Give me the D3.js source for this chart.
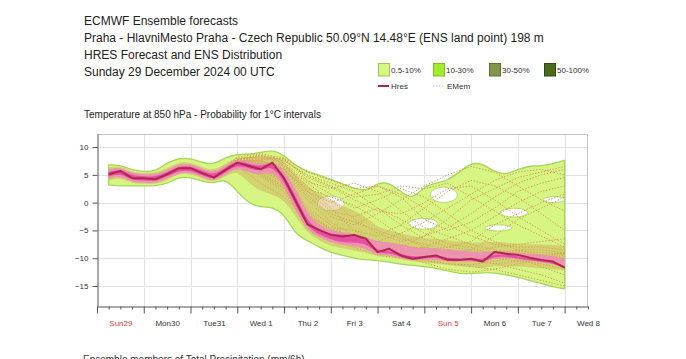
<!DOCTYPE html>
<html><head><meta charset="utf-8">
<script src="https://cdn.jsdelivr.net/npm/d3@7"></script>
<style>body{margin:0;background:#fff}svg{display:block}text{font-family:"Liberation Sans",Arial,sans-serif}</style>
</head><body><svg id="c" width="686" height="359"></svg>
<script>
// ---------- DATA ----------
const steps = [6,12,18,24,30,36,42,48,54,60,66,72,78,84,90,96,102,108,114,120,126,132,138,144,150,156,162,168,174,180,186,192,198,204,210,216,222,228,234,240];
const hres  = [5.1,5.7,4.4,4.4,4.2,5.1,6.2,6.2,5.3,4.5,5.9,7.2,6.6,6.0,7.2,4.4,0.3,-3.9,-4.9,-5.8,-6.1,-5.8,-6.5,-8.9,-8.3,-9.5,-10.1,-9.8,-9.5,-10.3,-10.3,-10.1,-10.6,-8.9,-9.2,-9.4,-9.9,-10.3,-10.6,-11.7];
// 0.5-10% envelope
const p05Hi = [6.8,6.8,5.8,5.6,5.6,7.2,8.0,8.0,7.2,6.8,8.2,8.7,8.7,9.0,9.5,8.6,6.6,5.6,5.0,4.2,3.4,2.6,2.0,3.6,3.6,2.0,0.5,3.0,3.5,4.0,5.5,7.2,7.0,5.5,5.0,6.0,6.6,6.6,7.0,7.6];
const p05Lo = [3.2,3.0,3.0,3.0,3.0,3.4,4.6,4.6,3.8,3.4,4.4,2.0,-0.2,-0.8,-0.8,-2.0,-5.8,-6.8,-8.0,-9.0,-9.5,-10.0,-10.3,-10.4,-10.7,-11.1,-11.3,-11.5,-11.8,-12.3,-12.8,-12.8,-12.6,-12.6,-13.0,-13.4,-14.0,-14.5,-15.2,-15.5];
// 10-30%
const p10Hi = [6.3,6.7,5.4,5.4,5.3,6.2,7.3,7.3,6.4,5.7,7.0,8.2,8.0,8.2,8.5,7.5,5.0,3.0,1.5,0.5,-0.5,-1.5,-2.5,-4.5,-5.0,-5.5,-6.0,-6.5,-6.5,-6.8,-7.0,-7.2,-7.2,-7.0,-7.2,-7.4,-7.5,-7.5,-7.6,-7.8];
const p10Lo = [4.0,4.5,3.4,3.4,3.3,4.0,5.2,5.2,4.3,3.6,4.8,5.8,3.5,2.0,1.5,0.5,-2.5,-5.5,-6.8,-7.8,-8.2,-8.6,-9.0,-9.6,-9.8,-10.2,-10.6,-10.8,-11.0,-11.2,-11.4,-11.6,-11.8,-11.4,-11.4,-11.5,-11.6,-11.8,-12.0,-12.2];
// 30-50%
const p30Hi = [6.0,6.5,5.2,5.2,5.0,5.9,7.0,7.0,6.1,5.4,6.7,7.9,7.3,6.8,7.6,5.8,2.5,-2.0,-4.0,-5.0,-5.4,-5.6,-6.2,-7.0,-7.2,-7.6,-8.0,-8.2,-8.2,-8.4,-8.6,-8.8,-9.0,-8.6,-8.8,-9.0,-9.2,-9.4,-9.6,-10.0];
const p30Lo = [4.3,4.8,3.6,3.6,3.4,4.3,5.4,5.4,4.6,3.7,5.1,6.3,5.4,4.9,5.8,3.0,-1.5,-5.0,-6.2,-7.2,-7.6,-7.8,-8.3,-9.6,-9.4,-10.0,-10.4,-10.3,-10.2,-10.6,-10.6,-10.6,-10.8,-10.0,-10.0,-10.2,-10.5,-10.8,-11.0,-11.6];
// 50-100%
const p50Hi = [5.5,6.1,4.8,4.8,4.6,5.5,6.6,6.6,5.7,4.9,6.3,7.6,7.0,6.4,7.4,5.0,1.2,-3.4,-5.0,-5.6,-5.8,-5.8,-6.6,-8.8,-8.6,-9.2,-9.8,-9.6,-9.4,-10.0,-10.1,-10.0,-10.3,-9.2,-9.4,-9.6,-10.0,-10.3,-10.6,-11.4];
const p50Lo = [4.7,5.3,4.0,4.0,3.8,4.7,5.8,5.8,4.9,4.1,5.5,6.8,6.2,5.6,6.8,3.8,-0.5,-4.4,-5.8,-6.6,-7.2,-7.2,-7.3,-9.2,-9.0,-9.8,-10.4,-10.0,-9.8,-10.6,-10.5,-10.3,-10.9,-9.6,-9.8,-10.0,-10.4,-10.6,-10.9,-11.8];
// zero-probability gaps inside the envelope: [t0,t1,v0,v1]
const holeT0 = [113,160,171,199,207,229];
const holeT1 = [127,175,185,213,221,240];
const holeV0 = [-1.5,-4.8,0.0,-5.1,-2.6,0.0];
const holeV1 = [1.2,-2.8,2.8,-4.0,-1.0,1.1];
// ensemble members
const memSteps = [6,12,24,36,48,60,72,84,96,108,120,132,144,156,168,180,192,204,216,228,240];
const m01 = [5.3,5.5,4.6,5.4,6.5,4.8,7.0,6.5,5.0,-2.0,-5.0,-6.5,-8.0,-9.0,-9.5,-10.0,-10.5,-9.5,-9.0,-9.8,-10.5];
const m02 = [5.0,5.8,4.2,4.8,6.0,4.6,7.6,7.5,6.5,3.0,-1.0,-5.0,-7.5,-8.5,-8.0,-9.0,-10.0,-11.0,-12.0,-13.0,-14.5];
const m03 = [5.4,5.9,4.5,5.2,6.8,5.0,8.0,8.2,7.5,5.0,3.5,2.0,-1.0,-4.0,-6.5,-8.0,-8.5,-9.0,-8.8,-9.0,-9.2];
const m04 = [5.1,5.6,4.3,5.0,6.3,4.2,6.5,3.5,1.0,-3.0,-6.0,-7.0,-7.5,-8.0,-6.0,-3.0,0.5,2.5,4.5,5.5,6.5];
const m05 = [5.2,5.4,4.8,5.5,6.0,4.6,7.3,5.5,3.0,-5.0,-7.0,-8.0,-9.5,-10.0,-10.5,-11.0,-11.5,-12.0,-11.0,-10.0,-9.0];
const m06 = [5.0,5.7,4.1,4.9,6.4,4.4,7.5,7.8,8.0,4.0,1.5,-1.0,0.5,2.5,1.0,-2.0,-5.0,-7.0,-8.5,-9.5,-10.5];
const m07 = [5.3,5.6,4.4,5.1,6.1,4.7,7.1,6.2,4.0,-2.5,-4.5,-5.0,-6.0,-4.0,-1.0,2.0,4.0,3.0,1.0,-2.0,-5.0];
const m08 = [5.1,5.5,4.7,5.3,6.6,4.5,6.8,4.8,2.0,-4.5,-6.5,-7.5,-8.5,-9.5,-10.8,-12.0,-12.5,-12.0,-13.0,-14.0,-15.0];
const m09 = [5.2,5.8,4.3,5.0,6.2,4.9,7.8,8.5,7.0,2.0,0.0,1.5,3.0,1.0,-3.0,-5.0,-3.5,-1.0,2.0,3.5,4.5];
const m10 = [5.0,5.5,4.5,5.2,6.3,4.3,7.0,7.0,5.5,0.5,-3.5,-6.0,-7.0,-7.5,-8.5,-8.0,-7.0,-4.0,-2.0,0.0,1.5];
const m11 = [5.3,5.7,4.6,4.9,6.0,4.7,7.4,6.8,6.0,1.5,-2.5,-4.0,-2.0,0.5,3.0,5.0,6.5,5.5,3.0,0.5,-1.5];
const m12 = [5.1,5.6,4.2,5.3,6.5,4.5,7.2,5.8,3.5,-3.5,-5.5,-6.0,-9.0,-9.8,-10.0,-10.5,-10.0,-9.0,-8.5,-8.5,-9.0];
const m13 = [5.2,5.4,4.4,5.1,6.7,4.8,8.2,8.8,8.0,5.5,4.0,2.5,3.0,1.5,-1.0,-4.0,-6.0,-7.5,-8.0,-8.0,-8.5];
const m14 = [5.0,5.9,4.5,5.0,6.1,4.4,6.9,5.0,2.5,-3.8,-5.8,-7.0,-8.2,-8.8,-9.2,-9.0,-8.5,-6.0,-3.0,-1.0,1.0];
const m15 = [5.3,5.7,4.3,5.2,6.4,4.6,7.5,7.2,6.8,3.5,0.5,-3.0,-5.5,-7.0,-6.0,-4.5,-2.0,1.0,3.5,5.0,6.0];
const m16 = [5.1,5.6,4.5,5.1,6.2,4.5,7.1,6.0,4.5,-4.0,-6.2,-6.8,-8.0,-8.8,-9.5,-9.8,-10.5,-11.0,-10.5,-11.0,-12.0];
const m17 = [5.2,5.6,4.4,5.0,6.3,4.6,7.4,7.6,6.0,1.0,-2.0,-3.5,-5.0,-6.5,-7.5,-8.5,-9.5,-10.0,-10.5,-10.0,-9.5];
const m18 = [5.1,5.7,4.5,5.1,6.2,4.4,7.2,6.4,5.2,-1.0,-4.0,-6.8,-8.5,-9.0,-8.0,-6.5,-5.0,-2.5,0.0,2.0,3.0];
const m19 = [5.3,5.5,4.3,5.2,6.4,4.7,7.6,8.0,7.2,3.8,2.5,3.5,2.0,-1.5,-4.5,-6.0,-7.5,-8.5,-9.5,-10.5,-11.5];
const m20 = [5.0,5.8,4.6,5.0,6.5,4.5,7.0,6.0,3.8,-2.8,-5.5,-6.5,-7.0,-5.5,-3.5,-1.0,1.5,4.0,5.5,6.0,5.0];
const m21 = [5.2,5.6,4.4,5.3,6.1,4.6,7.3,7.0,5.8,2.5,1.0,-0.5,-3.0,-6.0,-8.0,-9.0,-9.0,-8.0,-7.5,-7.0,-6.5];
const m22 = [5.1,5.7,4.5,5.0,6.3,4.8,7.7,8.3,7.8,4.5,2.8,0.5,-1.5,-2.0,0.0,2.5,3.0,0.5,-2.5,-5.0,-7.5];
const m23 = [5.3,5.5,4.6,5.2,6.2,4.4,6.9,5.2,2.8,-4.2,-6.4,-7.2,-8.8,-9.6,-10.2,-11.0,-11.2,-10.5,-9.8,-9.5,-10.0];
const m24 = [5.2,5.8,4.4,5.1,6.6,4.6,7.5,7.4,6.2,2.0,-1.5,-2.5,-1.0,-3.0,-5.5,-7.5,-8.0,-9.5,-10.0,-11.5,-13.0];
const m25 = [5.0,5.6,4.3,4.9,6.3,4.5,7.1,6.6,4.8,-1.5,-4.8,-6.0,-7.8,-8.4,-9.0,-9.2,-9.5,-9.8,-9.6,-9.4,-9.2];
const m26 = [5.2,5.7,4.5,5.2,6.0,4.7,7.8,8.6,7.6,4.8,3.0,1.0,1.5,3.0,2.5,3.5,1.0,-1.5,-4.0,-6.0,-8.0];
const members = [m01,m02,m03,m04,m05,m06,m07,m08,m09,m10,m11,m12,m13,m14,m15,m16,m17,m18,m19,m20,m21,m22,m23,m24,m25,m26];
// axes / text
const yTicks = [10,5,0,-5,-10,-15];
const dayLabels = ["Sun29","Mon30","Tue31","Wed 1","Thu 2","Fri 3","Sat 4","Sun 5","Mon 6","Tue 7","Wed 8"];
const sundays = ["Sun29","Sun 5"];
const titleLines = ["ECMWF Ensemble forecasts","Praha - HlavniMesto Praha - Czech Republic 50.09°N 14.48°E (ENS land point) 198 m","HRES Forecast and ENS Distribution","Sunday 29 December 2024 00 UTC"];
const legendLabels = ["0.5-10%","10-30%","30-50%","50-100%"];
const lineLegend = ["Hres","EMem"];

// ---------- DRAW ----------
const svg = d3.select("#c");
const W=686,H=359;
svg.append("rect").attr("width",W).attr("height",H).attr("fill","#fff");
const L=97,R=588,T=134,B=306;
const x = d3.scaleLinear().domain([0,252]).range([L,R]);
const y = d3.scaleLinear().domain([-18.6,12.35]).range([B,T]);

// titles
const tg = svg.append("g").attr("fill","#222");
const tBase=[25,42,59,76];
titleLines.forEach((s,i)=>tg.append("text").attr("x",84).attr("y",tBase[i]).attr("font-size",12).text(s));
const sub = svg.append("text").attr("x",84).attr("y",118).attr("font-size",10).attr("fill","#222")
  .text("Temperature at 850 hPa - Probability for 1°C intervals");
{const w=sub.node().getComputedTextLength(); sub.attr("font-size",10*237/w);}
svg.append("text").attr("x",83).attr("y",363).attr("font-size",10).attr("fill","#333")
  .text("Ensemble members of Total Precipitation (mm/6h)");

// legend
const boxFill=["#d6f880","#a2ec2e","#82964a","#4a6a1c"];
const boxStroke=["#9cc858","#78c020","#5e7034","#2e4810"];
const lg = svg.append("g");
const lx=[378,433,489,544];
legendLabels.forEach((s,i)=>{
  lg.append("rect").attr("x",lx[i]+0.5).attr("y",63.5).attr("width",11).attr("height",12.5)
    .attr("fill",boxFill[i]).attr("stroke",boxStroke[i]).attr("stroke-width",1);
  lg.append("text").attr("x",lx[i]+13).attr("y",72.5).attr("font-size",8).attr("fill","#333").text(s);
});
lg.append("line").attr("x1",378).attr("x2",389).attr("y1",86).attr("y2",86).attr("stroke","#a8284e").attr("stroke-width",2);
lg.append("text").attr("x",391).attr("y",89).attr("font-size",8).attr("fill","#333").text(lineLegend[0]);
lg.append("line").attr("x1",433).attr("x2",444).attr("y1",86).attr("y2",86).attr("stroke","#bbb").attr("stroke-width",1).attr("stroke-dasharray","1.5,1.5");
lg.append("text").attr("x",447).attr("y",89).attr("font-size",8).attr("fill","#333").text(lineLegend[1]);

// grid
const grid = svg.append("g").attr("stroke","#e2e2e2").attr("stroke-width",1);
d3.range(24,252,24).forEach(h=>grid.append("line").attr("x1",Math.round(x(h))+0.5).attr("x2",Math.round(x(h))+0.5).attr("y1",T).attr("y2",B));
yTicks.forEach(v=>grid.append("line").attr("x1",L).attr("x2",R).attr("y1",Math.round(y(v))+0.5).attr("y2",Math.round(y(v))+0.5));

// plot clip
svg.append("clipPath").attr("id","pc").append("rect").attr("x",L).attr("y",T).attr("width",R-L).attr("height",B-T);
const pg = svg.append("g").attr("clip-path","url(#pc)");

const band = (hi,lo)=>d3.area().x((d,i)=>x(steps[i])).y0((d,i)=>y(lo[i])).y1((d,i)=>y(hi[i])).curve(d3.curveBasis)(steps);
pg.append("path").attr("d",band(p05Hi,p05Lo)).attr("fill","#d6f582").attr("stroke","#a6d65a").attr("stroke-width",1.3);
holeT0.forEach((t0,i)=>{
  const cx=(x(t0)+x(holeT1[i]))/2, cy=(y(holeV0[i])+y(holeV1[i]))/2;
  pg.append("ellipse").attr("cx",cx).attr("cy",cy).attr("rx",(x(holeT1[i])-x(t0))/2).attr("ry",(y(holeV0[i])-y(holeV1[i]))/2)
    .attr("fill","#fff").attr("stroke","#b4de6c").attr("stroke-width",1);
});
// members
const mline = d3.line().x((d,i)=>x(memSteps[i])).y(d=>y(d));
members.forEach(m=>pg.append("path").attr("d",mline(m)).attr("fill","none").attr("stroke","#d1834c")
  .attr("stroke-width",0.9).attr("stroke-dasharray","1.3,1.7").attr("opacity",0.9));
pg.append("path").attr("d",band(p10Hi,p10Lo)).attr("fill","#cfae5e").attr("opacity",0.5);
pg.append("path").attr("d",band(p30Hi,p30Lo)).attr("fill","#f08abb").attr("opacity",0.85);
pg.append("path").attr("d",band(p50Hi,p50Lo)).attr("fill","#e8479e").attr("opacity",0.9);
const hl = d3.line().x((d,i)=>x(steps[i])).y(d=>y(d));
pg.append("path").attr("d",hl(hres)).attr("fill","none").attr("stroke","#b0264f").attr("stroke-width",2).attr("stroke-linejoin","round");

// frame
svg.append("path").attr("d",`M${L},${T+0.5}H${R-0.5}V${B}`).attr("fill","none").attr("stroke","#c4c4c4");

// y axis
const ya = svg.append("g").attr("transform",`translate(${L+0.5},0)`)
  .call(d3.axisLeft(y).tickValues(yTicks).tickSize(5).tickSizeOuter(0).tickPadding(4));
ya.select(".domain").attr("stroke","#555");
ya.selectAll(".tick line").attr("stroke","#555");
ya.selectAll("text").attr("font-size",8).attr("fill","#333").attr("font-family","Liberation Sans, Arial, sans-serif");

// x axis
const xa = svg.append("g").attr("transform",`translate(0,${B+0.5})`)
  .call(d3.axisBottom(x).tickValues(d3.range(0,253,6)).tickSize(3).tickSizeOuter(0).tickFormat(""));
xa.selectAll(".tick line").attr("y2",d=>d%24===0?7:3).attr("stroke","#555");
xa.select(".domain").attr("stroke","#555");
const xl = svg.append("g").attr("transform",`translate(0,${B+0.5})`)
  .call(d3.axisBottom(x).tickValues(d3.range(12,253,24)).tickSize(0).tickPadding(14).tickFormat((d,i)=>dayLabels[i]));
xl.select(".domain").remove();
xl.selectAll("text").attr("font-size",8).attr("font-family","Liberation Sans, Arial, sans-serif")
  .attr("fill",(d,i)=>sundays.includes(dayLabels[i])?"#d04040":"#333");
</script></body></html>
